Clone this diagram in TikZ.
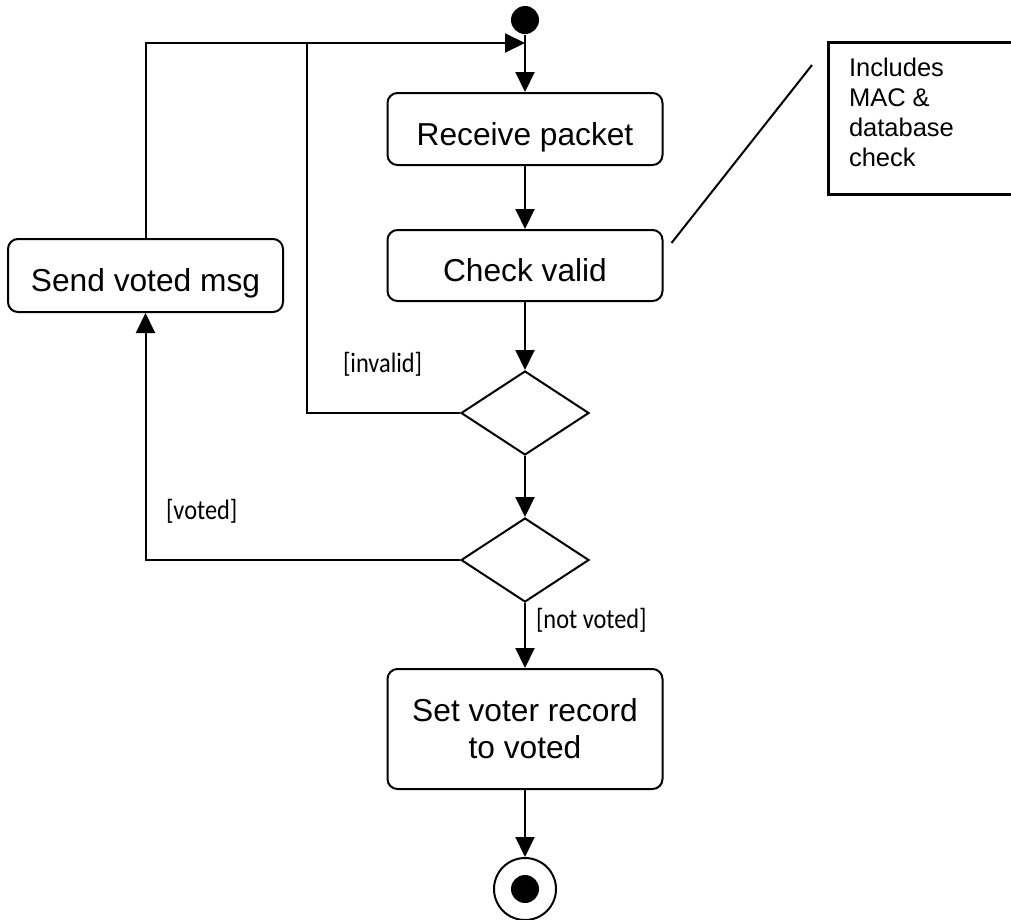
\documentclass[tikz,border=0pt]{standalone}
\usepackage{fontspec}
\setmainfont{Liberation Sans}
\newfontfamily\guardfont[FakeStretch=0.87]{Carlito}
\usetikzlibrary{arrows.meta,shapes.geometric,calc}
\begin{document}
\begin{tikzpicture}[x=1pt,y=-1pt,line width=2pt,
  arr/.style={-{Triangle[length=20pt,width=19pt]}},
  action/.style={draw,rounded corners=10pt,minimum width=275pt,inner sep=0pt,
    align=center,font=\fontsize{31.7pt}{37pt}\selectfont},
  oneline/.style={text height=32pt,text depth=0pt},
  decision/.style={draw,diamond,minimum width=128pt,minimum height=84pt,inner sep=0pt},
  guard/.style={anchor=base west,inner sep=0pt,font=\guardfont\fontsize{28pt}{32pt}\selectfont},
  startdot/.style={circle,fill,minimum size=28pt,inner sep=0pt},
  notebox/.style={draw,line width=2.5pt,anchor=north west,inner sep=0pt,
    minimum width=193pt,minimum height=152pt}]
\clip (0,0) rectangle (1011,919);

% initial and final states
\node[startdot] (start) at (525,20) {};
\node[circle,draw,minimum size=62pt,inner sep=0pt] (end) at (525,889) {};
\node[startdot] (endin) at (end) {};

% actions
\node[action,oneline,minimum height=72pt] (recv) at (525,129) {Receive packet};
\node[action,oneline,minimum height=71pt] (check) at (525,265.5) {Check valid};
\node[action,oneline,minimum height=73pt] (send) at (145.5,275.5) {Send voted msg};
\node[action,minimum height=120pt] (setv) at (525,729) {Set voter record\\to voted};

% decisions
\node[decision] (d1) at (525,413) {};
\node[decision] (d2) at (525,560) {};

% guards
\node[guard] (ginv) at (342,372) {[invalid]};
\node[guard] (gvot) at (165,519) {[voted]};
\node[guard] (gnot) at (535,628) {[not voted]};

% note
\node[notebox] (note) at (827,41) {};
\node[anchor=north west,inner sep=0pt,align=left,
  font=\fontsize{25.5pt}{30pt}\selectfont] (notetext) at (848,57)
  {Includes\\MAC \&\\database\\check};

% flow
\coordinate (merge) at (525,43);
\coordinate (invtop) at (307,43);
\draw[arr] (start) -- (recv);
\draw[arr] (recv) -- (check);
\draw[arr] (check) -- (d1);
\draw[arr] (d1) -- (d2);
\draw[arr] (d2) -- (setv);
\draw[arr] (setv) -- (end);
\draw[arr] (send.north) |- (merge);
\draw (d1.west) -| (invtop);
\draw[arr] (d2.west) -| (send.south);

% note anchor line
\coordinate (la) at ($(check.north east)+(8,14)$);
\coordinate (lb) at ($(note.north west)+(-15,24)$);
\draw (la) -- (lb);
\end{tikzpicture}
\end{document}
